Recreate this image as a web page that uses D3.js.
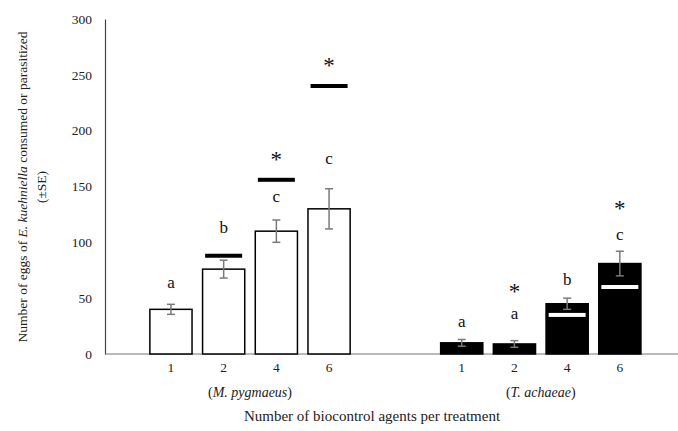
<!DOCTYPE html>
<html>
<head>
<meta charset="utf-8">
<script src="https://cdn.jsdelivr.net/npm/d3@7"></script>
<style>
  body { margin: 0; background: #fff; }
  svg { display: block; font-family: "Liberation Serif", "Times New Roman", serif; }
</style>
</head>
<body>
<svg id="chart" width="678" height="431"></svg>
<script>
// data
const groups = ["M. pygmaeus", "T. achaeae"];
const agents = ["1", "2", "4", "6"];
const mpygValues = [40, 76, 110, 130];
const mpygSE = [4.5, 8, 10, 18];
const tachValues = [10, 9, 45, 81];
const tachSE = [3, 3, 5, 11];
// comparison lines (value), null where absent
const mpygLines = [null, 88, 156, 240];
const tachLines = [null, 15, 35, 60];
// letters and stars, with the value level they sit at
const mpygLetters = ["a", "b", "c", "c"];
const mpygLetterY = [64, 113, 141, 175];
const mpygStars = [null, null, 176, 260];
const tachLetters = ["a", "a", "b", "c"];
const tachLetterY = [29, 36, 67, 107];
const tachStars = [null, 58, null, 132];
const yTicks = [0, 50, 100, 150, 200, 250, 300];

const svg = d3.select("#chart");

const y = d3.scaleLinear().domain([0, 300]).range([354, 19]);
const xGroup = d3.scaleBand().domain(groups).range([144.6, 646.2]).paddingInner(0.275).paddingOuter(0);
const xIn = d3.scaleBand().domain(agents).range([0, xGroup.bandwidth()]).paddingInner(0.2).paddingOuter(0.1);

const series = [
  { g: groups[0], vals: mpygValues, se: mpygSE, lines: mpygLines, letters: mpygLetters, ly: mpygLetterY, stars: mpygStars, fill: "#fff", lineCol: "#000" },
  { g: groups[1], vals: tachValues, se: tachSE, lines: tachLines, letters: tachLetters, ly: tachLetterY, stars: tachStars, fill: "#000", lineCol: "#fff" }
];

// y axis
const yAxis = svg.append("g")
    .attr("transform", "translate(105,0)")
    .call(d3.axisLeft(y).tickValues(yTicks).tickSize(0).tickPadding(13));
yAxis.select(".domain").attr("stroke", "#444").attr("stroke-width", 1.2);
yAxis.selectAll("text").attr("font-size", 13.5).attr("font-family", "Liberation Serif").attr("fill", "#222");

// x axis baseline
svg.append("line")
    .attr("x1", 105).attr("x2", 678)
    .attr("y1", y(0)).attr("y2", y(0))
    .attr("stroke", "#777").attr("stroke-width", 1.2);

series.forEach(s => {
  const gx = xGroup(s.g);
  const cx = a => gx + xIn(a) + xIn.bandwidth() / 2;
  const data = agents.map((a, i) => ({ a, v: s.vals[i], se: s.se[i], line: s.lines[i], letter: s.letters[i], ly: s.ly[i], star: s.stars[i] }));
  const grp = svg.append("g");

  grp.selectAll("rect.bar").data(data).enter().append("rect")
      .attr("class", "bar")
      .attr("x", d => gx + xIn(d.a))
      .attr("y", d => y(d.v))
      .attr("width", xIn.bandwidth())
      .attr("height", d => y(0) - y(d.v))
      .attr("fill", s.fill)
      .attr("stroke", "#000")
      .attr("stroke-width", 1.5);

  // error bars
  const eb = grp.selectAll("g.err").data(data).enter().append("g").attr("class", "err")
      .attr("stroke", "#7a7a7a").attr("stroke-width", 1.5);
  eb.append("line").attr("x1", d => cx(d.a)).attr("x2", d => cx(d.a))
      .attr("y1", d => y(d.v + d.se)).attr("y2", d => y(d.v - d.se));
  eb.append("line").attr("x1", d => cx(d.a) - 4).attr("x2", d => cx(d.a) + 4)
      .attr("y1", d => y(d.v + d.se)).attr("y2", d => y(d.v + d.se));
  eb.append("line").attr("x1", d => cx(d.a) - 4).attr("x2", d => cx(d.a) + 4)
      .attr("y1", d => y(d.v - d.se)).attr("y2", d => y(d.v - d.se));

  // comparison lines
  grp.selectAll("rect.cmp").data(data.filter(d => d.line != null)).enter().append("rect")
      .attr("class", "cmp")
      .attr("x", d => cx(d.a) - 18.5)
      .attr("y", d => y(d.line) - 2)
      .attr("width", 37)
      .attr("height", 4)
      .attr("fill", s.lineCol);

  // letters
  grp.selectAll("text.let").data(data).enter().append("text")
      .attr("class", "let")
      .attr("x", d => cx(d.a))
      .attr("y", d => y(d.ly))
      .attr("dy", "0.33em")
      .attr("text-anchor", "middle")
      .attr("font-size", 17)
      .attr("fill", "#111")
      .text(d => d.letter);

  // stars
  grp.selectAll("text.star").data(data.filter(d => d.star != null)).enter().append("text")
      .attr("class", "star")
      .attr("x", d => cx(d.a))
      .attr("y", d => y(d.star))
      .attr("dy", "0.42em")
      .attr("text-anchor", "middle")
      .attr("font-size", 23)
      .attr("fill", "#111")
      .text("*");

  // category labels
  grp.selectAll("text.cat").data(data).enter().append("text")
      .attr("class", "cat")
      .attr("x", d => cx(d.a))
      .attr("y", 372)
      .attr("text-anchor", "middle")
      .attr("font-size", 13.5)
      .attr("fill", "#222")
      .text(d => d.a);

  // group label
  const gl = svg.append("text")
      .attr("x", gx + xGroup.bandwidth() / 2)
      .attr("y", 397)
      .attr("text-anchor", "middle")
      .attr("font-size", 14)
      .attr("fill", "#222");
  gl.append("tspan").text("(");
  gl.append("tspan").attr("font-style", "italic").text(s.g);
  gl.append("tspan").text(")");
});

// x title
svg.append("text")
    .attr("x", 372).attr("y", 421)
    .attr("text-anchor", "middle")
    .attr("font-size", 15)
    .attr("fill", "#222")
    .text("Number of biocontrol agents per treatment");

// y title (two lines)
const yt = svg.append("text")
    .attr("transform", "translate(27,187) rotate(-90)")
    .attr("text-anchor", "middle")
    .attr("font-size", 13.5)
    .attr("fill", "#222");
yt.append("tspan").attr("x", 0).attr("dy", 0).text("Number of eggs of ");
yt.append("tspan").attr("font-style", "italic").text("E. kuehniella");
yt.append("tspan").text(" consumed or parasitized");
svg.append("text")
    .attr("transform", "translate(46,187) rotate(-90)")
    .attr("text-anchor", "middle")
    .attr("font-size", 13.5)
    .attr("fill", "#222")
    .text("(±SE)");
</script>
</body>
</html>
